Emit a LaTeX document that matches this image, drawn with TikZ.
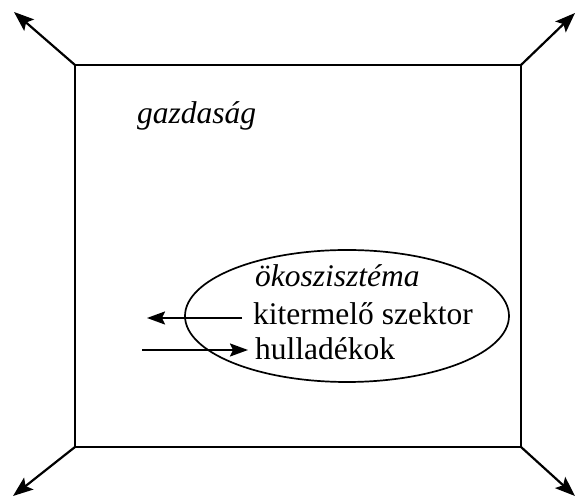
\documentclass[tikz,border=0pt]{standalone}
\usepackage{fontspec}
\setmainfont{Liberation Serif}
\usetikzlibrary{arrows.meta,shapes.geometric}
\begin{document}
\begin{tikzpicture}[x=1pt,y=1pt,
  bigarrow/.style={line width=2.2pt,-{Stealth[length=20pt,width=15pt,inset=4pt]}},
  smallarrow/.style={line width=2pt,-{Stealth[length=18pt,width=13pt,inset=3pt]}},
  lbl/.style={anchor=base west,inner sep=0pt,font=\fontsize{31.5}{37}\selectfont}]
\useasboundingbox (0,0) rectangle (576,497);
% box
\coordinate (tl) at (75,432);
\coordinate (tr) at (521,432);
\coordinate (bl) at (75,50);
\coordinate (br) at (521,50);
\draw[line width=2.2pt] (tl) -- (tr) -- (br) -- (bl) -- cycle;
% corner arrows
\coordinate (tlx) at (14,485);
\coordinate (trx) at (575,484);
\coordinate (blx) at (13,1);
\coordinate (brx) at (575,1);
\draw[bigarrow] (tl) -- (tlx);
\draw[bigarrow] (tr) -- (trx);
\draw[bigarrow] (bl) -- (blx);
\draw[bigarrow] (br) -- (brx);
% ellipse
\node (eco) [draw,line width=1.7pt,ellipse,inner sep=0pt,minimum width=324pt,minimum height=132pt] at (347,181) {};
% labels
\node[lbl] (gaz) at (137,373) {\itshape gazdaság};
\node[lbl] (oko) at (255,210) {\itshape ökoszisztéma};
\node[lbl] (kit) at (253,172) {kitermelő szektor};
\node[lbl] (hul) at (255,137) {hulladékok};
% small arrows
\coordinate (a1s) at (242,179);
\coordinate (a1e) at (147,179);
\coordinate (a2s) at (142,147);
\coordinate (a2e) at (248,147);
\draw[smallarrow] (a1s) -- (a1e);
\draw[smallarrow] (a2s) -- (a2e);
\end{tikzpicture}
\end{document}
